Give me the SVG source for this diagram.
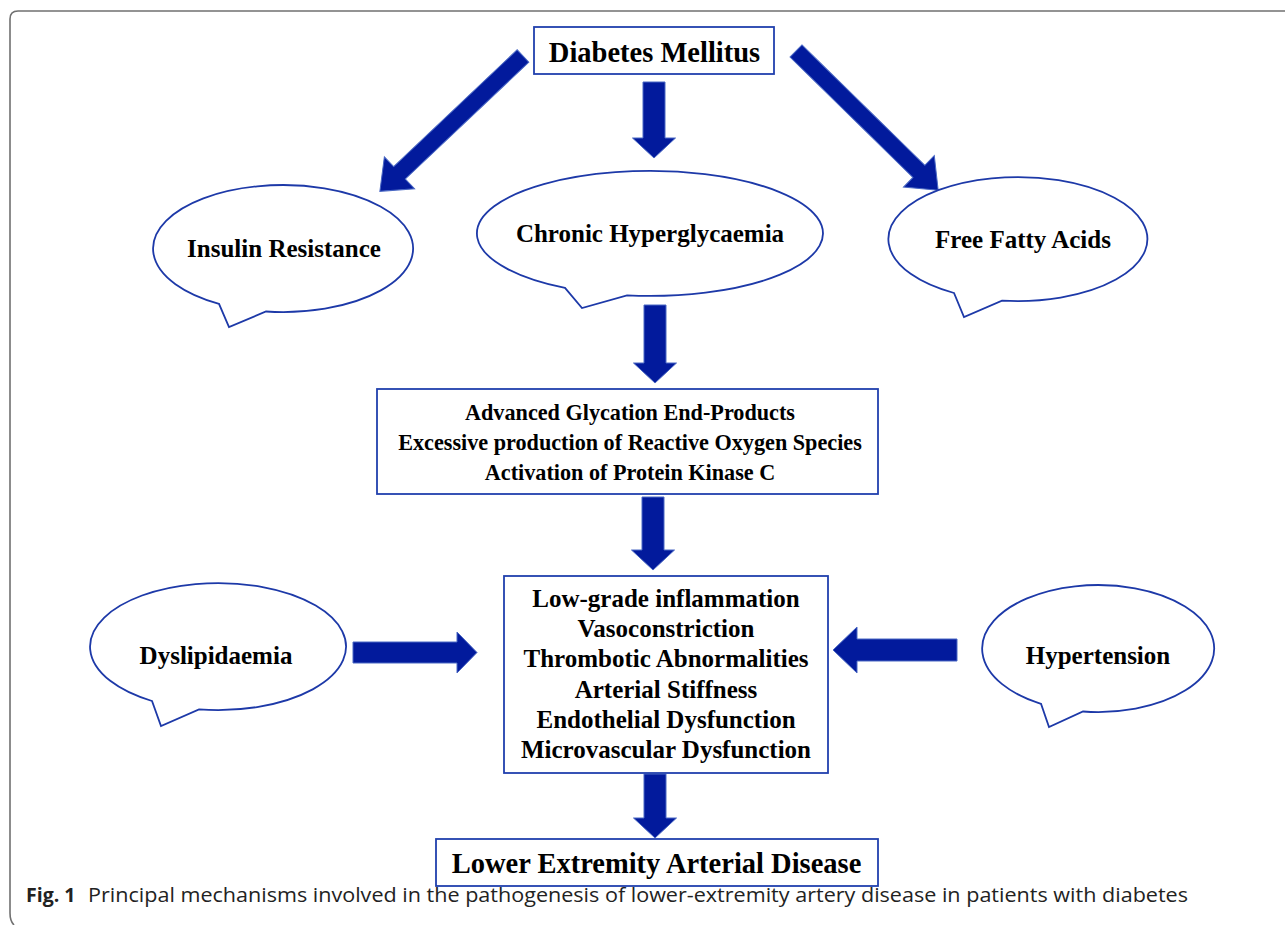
<svg xmlns="http://www.w3.org/2000/svg" width="1285" height="925" viewBox="0 0 1285 925">
<defs>
<style>
.box{fill:#fff;stroke:#2140ad;stroke-width:1.8}
.bub{fill:#fff;stroke:#1d39a8;stroke-width:1.8;stroke-linejoin:miter}
.arr{fill:#021a9c;stroke:#4a68c4;stroke-width:1}
.t{font-family:"Liberation Serif","Times New Roman",serif;font-weight:bold;fill:#000;text-anchor:middle}
.cap{font-family:"Open Sans","Noto Sans",sans-serif;font-size:19.5px;fill:#222}
</style>
</defs>
<rect width="1285" height="925" fill="#fff"/>
<path d="M14 925 Q10 921 10 913 L10 19 Q10 11 18 11 L1290 11" fill="none" stroke="#707070" stroke-width="1.6"/>

<g id="connectors">
<path class="arr" d="M643 82 H665 V138 H675.5 L654 158 L632.5 138 H643 Z"/>
<path class="arr" d="M644 305 H666 V363 H676.5 L655 383 L633.5 363 H644 Z"/>
<path class="arr" d="M642 497 H664 V550 H674.5 L653 570 L631.5 550 H642 Z"/>
<path class="arr" d="M644 774 H666 V818 H676.5 L655 838 L633.5 818 H644 Z"/>
<path class="arr" transform="translate(523 56) rotate(136.6)" d="M0 -8.5 H170 V-22 L197 0 L170 22 V8.5 H0 Z"/>
<path class="arr" transform="translate(796 51) rotate(44.4)" d="M0 -8.5 H172 V-22 L199 0 L172 22 V8.5 H0 Z"/>
<path class="arr" d="M353 642 H457 V632 L477 652.5 L457 673 V663 H353 Z"/>
<path class="arr" d="M957 639 H857 V627 L833 650 L857 673 V661 H957 Z"/>
</g>

<g id="diabetes-mellitus">
<rect class="box" x="534" y="27" width="240" height="47"/>
<text class="t" x="654.5" y="62" font-size="28.5">Diabetes Mellitus</text>
</g>

<g id="insulin-resistance">
<path class="bub" d="M219 303.8 A130 63.5 0 1 1 266 311.5 L229 327 Z"/>
<text class="t" x="284" y="257" font-size="25">Insulin Resistance</text>
</g>

<g id="chronic-hyperglycaemia">
<path class="bub" d="M565 287.9 A173 62.5 0 1 1 627 295.4 L582 308 Z"/>
<text class="t" x="650" y="242" font-size="25">Chronic Hyperglycaemia</text>
</g>

<g id="free-fatty-acids">
<path class="bub" d="M954 293 A129.5 62 0 1 1 1002 300.6 L964 317 Z"/>
<text class="t" x="1023" y="248" font-size="25">Free Fatty Acids</text>
</g>

<g id="age-box">
<rect class="box" x="377" y="389" width="501" height="105"/>
<text class="t" font-size="22.2"><tspan x="630" y="419.5">Advanced Glycation End-Products</tspan><tspan x="630" y="449.5">Excessive production of Reactive Oxygen Species</tspan><tspan x="630" y="479.5">Activation of Protein Kinase C</tspan></text>
</g>

<g id="dyslipidaemia">
<path class="bub" d="M152 701 A128 63.5 0 1 1 199 709.4 L161 726 Z"/>
<text class="t" x="216" y="664" font-size="25">Dyslipidaemia</text>
</g>

<g id="mechanisms-box">
<rect class="box" x="504" y="576" width="324" height="197"/>
<text class="t" font-size="25"><tspan x="666" y="607">Low-grade inflammation</tspan><tspan x="666" y="637.2">Vasoconstriction</tspan><tspan x="666" y="667.4">Thrombotic Abnormalities</tspan><tspan x="666" y="697.6">Arterial Stiffness</tspan><tspan x="666" y="727.8">Endothelial Dysfunction</tspan><tspan x="666" y="758">Microvascular Dysfunction</tspan></text>
</g>

<g id="hypertension">
<path class="bub" d="M1041 703.8 A116 63.5 0 1 1 1083 711.5 L1049 727 Z"/>
<text class="t" x="1098" y="664" font-size="25">Hypertension</text>
</g>

<g id="lead-box">
<rect class="box" x="436" y="839" width="442" height="47"/>
<text class="t" x="656.5" y="873" font-size="28.5">Lower Extremity Arterial Disease</text>
</g>

<g id="caption">
<text class="cap" x="26" y="902" font-weight="bold">Fig. 1</text>
<text class="cap" x="88" y="902" textLength="1100" lengthAdjust="spacingAndGlyphs">Principal mechanisms involved in the pathogenesis of lower-extremity artery disease in patients with diabetes</text>
</g>
</svg>
